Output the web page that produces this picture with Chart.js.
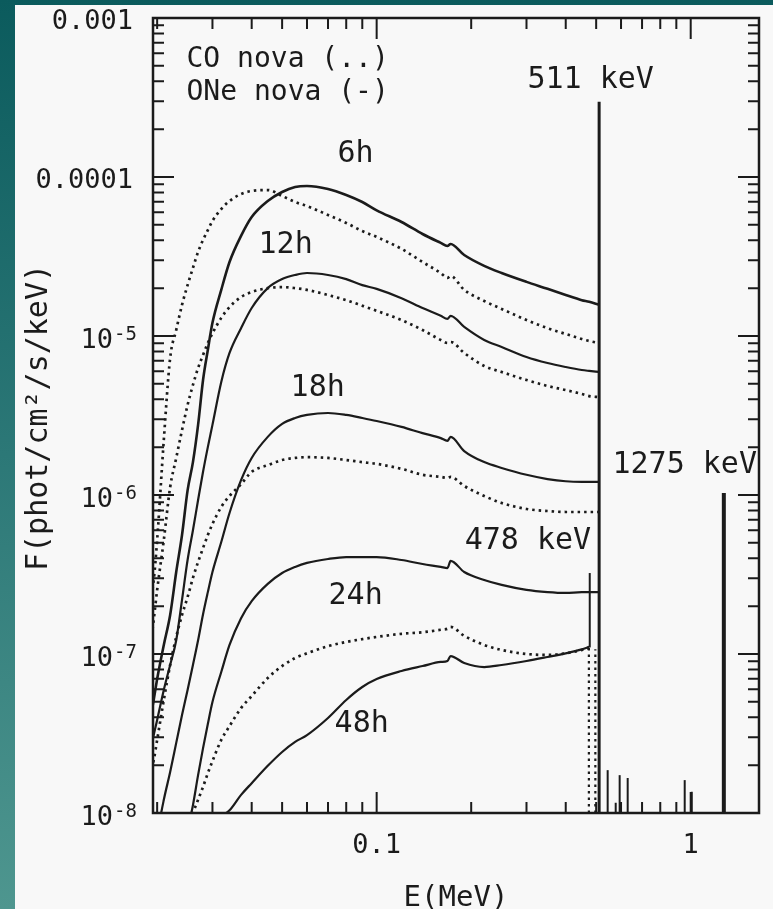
<!DOCTYPE html>
<html>
<head>
<meta charset="utf-8">
<title>Nova gamma-ray spectra</title>
<script src="https://cdn.jsdelivr.net/npm/chart.js@4.4.1/dist/chart.umd.min.js"></script>
<style>
  html, body { margin: 0; padding: 0; }
  body {
    width: 773px; height: 909px; overflow: hidden; position: relative;
    background: linear-gradient(to bottom, #0b5b5d 0%, #2c7877 50%, #4e968f 100%);
  }
  #panel { position: absolute; left: 15px; top: 5px; right: 0; bottom: 0; background: #f8f8f8; }
  #chart { position: absolute; left: 0; top: 0; }
</style>
</head>
<body>
<div id="panel"></div>
<canvas id="chart" width="773" height="909"></canvas>
<script>
// energy grid (MeV), shared by all the spectra
var energy = [0.018, 0.0195, 0.02, 0.021, 0.022, 0.023, 0.024, 0.025, 0.026, 0.027,
  0.028, 0.029, 0.03, 0.032, 0.034, 0.037, 0.04, 0.045, 0.05, 0.055,
  0.06, 0.07, 0.08, 0.09, 0.1, 0.12, 0.14, 0.16, 0.168, 0.172,
  0.19, 0.22, 0.25, 0.3, 0.35, 0.4, 0.45, 0.475, 0.51];

// ONe nova (solid), phot/cm2/s/keV
var one6h = [2.15e-8, 5.14e-8, 6.96e-8, 1.14e-7, 1.76e-7, 3.28e-7, 5.6e-7, 1.07e-6, 1.61e-6, 2.76e-6,
  5.29e-6, 8.17e-6, 1.21e-5, 1.95e-5, 2.92e-5, 4.26e-5, 5.6e-5, 7.06e-5, 8.05e-5, 8.65e-5,
  8.78e-5, 8.41e-5, 7.71e-5, 6.96e-5, 6.17e-5, 5.21e-5, 4.38e-5, 3.85e-5, 3.68e-5, 3.79e-5,
  3.23e-5, 2.76e-5, 2.49e-5, 2.19e-5, 1.98e-5, 1.81e-5, 1.68e-5, 1.64e-5, 1.57e-5];
var one12h = [1.61e-8, 3.09e-8, 3.85e-8, 5.94e-8, 8.53e-8, 1.22e-7, 2.19e-7, 3.9e-7, 6.0e-7, 9.3e-7,
  1.4e-6, 2.0e-6, 2.76e-6, 5.14e-6, 7.82e-6, 1.12e-5, 1.5e-5, 2.0e-5, 2.28e-5, 2.42e-5,
  2.49e-5, 2.42e-5, 2.28e-5, 2.09e-5, 1.98e-5, 1.73e-5, 1.5e-5, 1.34e-5, 1.28e-5, 1.34e-5,
  1.14e-5, 9.44e-6, 8.53e-6, 7.38e-6, 6.76e-6, 6.38e-6, 6.11e-6, 6.03e-6, 5.94e-6];
var one18h = [3.79e-9, 5.06e-9, 7.27e-9, 1.21e-8, 1.81e-8, 2.76e-8, 4.13e-8, 5.94e-8, 8.53e-8, 1.22e-7,
  1.78e-7, 2.45e-7, 3.28e-7, 5.06e-7, 7.71e-7, 1.24e-6, 1.71e-6, 2.32e-6, 2.8e-6, 3.05e-6,
  3.19e-6, 3.28e-6, 3.19e-6, 3.05e-6, 2.92e-6, 2.68e-6, 2.45e-6, 2.28e-6, 2.19e-6, 2.32e-6,
  1.89e-6, 1.61e-6, 1.48e-6, 1.34e-6, 1.26e-6, 1.22e-6, 1.21e-6, 1.21e-6, 1.21e-6];
var one24h = [null, null, null, null, null, null, 5.21e-9, 7.82e-9, 1.12e-8, 1.73e-8,
  2.56e-8, 3.63e-8, 4.99e-8, 7.71e-8, 1.14e-7, 1.68e-7, 2.15e-7, 2.76e-7, 3.23e-7, 3.53e-7,
  3.74e-7, 3.96e-7, 4.07e-7, 4.07e-7, 4.07e-7, 3.9e-7, 3.68e-7, 3.53e-7, 3.47e-7, 3.85e-7,
  3.28e-7, 2.92e-7, 2.72e-7, 2.53e-7, 2.45e-7, 2.42e-7, 2.45e-7, 2.45e-7, 2.45e-7];
var one48h = [null, null, null, null, null, null, null, null, null, null,
  null, null, null, 9.57e-9, 1.04e-8, 1.3e-8, 1.54e-8, 1.98e-8, 2.42e-8, 2.8e-8,
  3.09e-8, 3.96e-8, 5.14e-8, 6.2e-8, 6.96e-8, 7.82e-8, 8.4e-8, 8.91e-8, 9.04e-8, 9.71e-8,
  8.78e-8, 8.28e-8, 8.53e-8, 9.04e-8, 9.58e-8, 1.01e-7, 1.07e-7, 1.11e-7, null];

// CO nova (dotted)
var co6h = [1.22e-7, 2.92e-7, 5.21e-7, 2.22e-6, 7.28e-6, 1.09e-5, 1.57e-5, 2.09e-5, 2.68e-5, 3.38e-5,
  4.02e-5, 4.64e-5, 5.29e-5, 6.29e-5, 7.06e-5, 7.82e-5, 8.17e-5, 8.28e-5, 7.6e-5, 6.96e-5,
  6.57e-5, 5.77e-5, 5.14e-5, 4.57e-5, 4.2e-5, 3.53e-5, 2.92e-5, 2.49e-5, 2.32e-5, 2.38e-5,
  1.95e-5, 1.66e-5, 1.48e-5, 1.26e-5, 1.12e-5, 1.03e-5, 9.57e-6, 9.3e-6, 9.04e-6];
var co12h = [5.14e-8, 1.64e-7, 2.53e-7, 5.21e-7, 1.12e-6, 1.71e-6, 2.56e-6, 3.68e-6, 4.92e-6, 6.29e-6,
  7.6e-6, 9.04e-6, 1.04e-5, 1.3e-5, 1.52e-5, 1.76e-5, 1.89e-5, 2.0e-5, 2.03e-5, 2.0e-5,
  1.95e-5, 1.81e-5, 1.68e-5, 1.55e-5, 1.44e-5, 1.26e-5, 1.09e-5, 9.44e-6, 9.04e-6, 9.17e-6,
  7.82e-6, 6.48e-6, 5.94e-6, 5.29e-6, 4.85e-6, 4.57e-6, 4.32e-6, 4.19e-6, 4.13e-6];
var co18h = [1.21e-8, 2.15e-8, 2.88e-8, 5.14e-8, 8.53e-8, 1.28e-7, 1.76e-7, 2.28e-7, 3.01e-7, 3.79e-7,
  4.64e-7, 5.6e-7, 6.57e-7, 8.41e-7, 9.86e-7, 1.17e-6, 1.4e-6, 1.54e-6, 1.66e-6, 1.71e-6,
  1.73e-6, 1.71e-6, 1.66e-6, 1.61e-6, 1.57e-6, 1.46e-6, 1.34e-6, 1.3e-6, 1.28e-6, 1.3e-6,
  1.14e-6, 9.86e-7, 8.91e-7, 8.17e-7, 7.93e-7, 7.82e-7, 7.82e-7, 7.82e-7, 7.82e-7];
var co24h = [null, null, null, null, null, null, 6.29e-9, 8.05e-9, 1.0e-8, 1.21e-8,
  1.46e-8, 1.78e-8, 2.12e-8, 2.88e-8, 3.52e-8, 4.57e-8, 5.44e-8, 7.06e-8, 8.4e-8, 9.44e-8,
  1.01e-7, 1.12e-7, 1.19e-7, 1.24e-7, 1.28e-7, 1.34e-7, 1.37e-7, 1.42e-7, 1.44e-7, 1.48e-7,
  1.3e-7, 1.14e-7, 1.06e-7, 1.0e-7, 9.86e-8, 1.01e-7, 1.06e-7, 1.09e-7, null];

// gamma-ray lines: energy (MeV) and top flux
var lineEnergy = [0.511, 1.275];
var lineTop = [2.97e-4, 1.03e-6];
var weakEnergy = [0.544, 0.577, 0.594, 0.63, 0.957, 1.008];
var weakTop = [1.86e-8, 1.16e-8, 1.73e-8, 1.66e-8, 1.61e-8, 1.36e-8];
var be7Energy = 0.477, be7Low = 1.1e-7, be7Top = 3.23e-7;
var dropEnergy = [0.474, 0.497];
var dropTop = [1.09e-7, 1.07e-7];

// axes
var xMin = 0.0194, xMax = 1.65, yMin = 1e-8, yMax = 1e-3;
var yTicks = [1e-3, 1e-4, 1e-5, 1e-6, 1e-7, 1e-8];
var yTickText = ['0.001', '0.0001', '10^-5', '10^-6', '10^-7', '10^-8'];
var xTicks = [0.1, 1];
var xTickText = ['0.1', '1'];

var ink = '#1b1b1b';
var face = '"DejaVu Sans Mono", "Liberation Mono", monospace';
var dots = [2.5, 4];

function points(series) {
  var pts = [];
  energy.forEach(function (e, i) {
    if (series[i] !== null) pts.push({ x: e, y: series[i] });
  });
  return pts;
}

function curve(series, dotted, width) {
  return {
    data: points(series),
    showLine: true,
    pointRadius: 0,
    borderColor: ink,
    borderWidth: width || (dotted ? 2.7 : 2.2),
    borderDash: dotted ? dots : [],
    cubicInterpolationMode: 'monotone'
  };
}

function vline(e, lo, hi, width, dotted) {
  return {
    data: [{ x: e, y: lo }, { x: e, y: hi }],
    showLine: true,
    pointRadius: 0,
    borderColor: ink,
    borderWidth: width,
    borderDash: dotted ? dots : []
  };
}

function logTicks(min, max) {
  var out = [];
  for (var e = Math.floor(Math.log10(min)); e <= Math.ceil(Math.log10(max)); e++) {
    for (var k = 1; k < 10; k++) {
      var v = k * Math.pow(10, e);
      if (v > min * 1.0001 && v < max * 0.9999) out.push({ v: v, major: k === 1 });
    }
  }
  return out;
}

//labels inside the plot, placed in data coordinates
var notes = [
  ['6h', 0.0857, 1.46e-4, 30, 'center'],
  ['12h', 0.0513, 3.9e-5, 30, 'center'],
  ['18h', 0.0649, 4.92e-6, 30, 'center'],
  ['24h', 0.0857, 2.42e-7, 30, 'center'],
  ['48h', 0.0896, 3.79e-8, 30, 'center'],
  ['478 keV', 0.303, 5.37e-7, 30, 'center'],
  ['511 keV', 0.48, 4.26e-4, 30, 'center'],
  ['1275 keV', 0.957, 1.61e-6, 30, 'center'],
  ['CO nova (..)', 0.0248, 5.69e-4, 28, 'left'],
  ['ONe nova (-)', 0.0248, 3.52e-4, 28, 'left']
];

var axesPlugin = {
  id: 'axesPlugin',
  afterDatasetsDraw: function (chart) {
    var ctx = chart.ctx, a = chart.chartArea, sx = chart.scales.x, sy = chart.scales.y;
    ctx.save();
    ctx.strokeStyle = ink;
    ctx.fillStyle = ink;

    // frame
    ctx.lineWidth = 2.5;
    ctx.strokeRect(a.left, a.top, a.right - a.left, a.bottom - a.top);

    // inward ticks on all four sides
    ctx.lineWidth = 2;
    ctx.beginPath();
    logTicks(xMin, xMax).forEach(function (t) {
      var px = sx.getPixelForValue(t.v), len = t.major ? 21 : 11;
      ctx.moveTo(px, a.bottom); ctx.lineTo(px, a.bottom - len);
      ctx.moveTo(px, a.top); ctx.lineTo(px, a.top + len);
    });
    logTicks(yMin, yMax).forEach(function (t) {
      var py = sy.getPixelForValue(t.v), len = t.major ? 21 : 11;
      ctx.moveTo(a.left, py); ctx.lineTo(a.left + len, py);
      ctx.moveTo(a.right, py); ctx.lineTo(a.right - len, py);
    });
    ctx.stroke();

    // y tick labels
    ctx.textBaseline = 'alphabetic';
    ctx.textAlign = 'right';
    yTicks.forEach(function (v, i) {
      var py = sy.getPixelForValue(v), s = yTickText[i];
      if (s.indexOf('^') > 0) {
        var parts = s.split('^');
        ctx.font = '19px ' + face;
        var w = ctx.measureText(parts[1]).width;
        ctx.fillText(parts[1], a.left - 16, py + 4);
        ctx.font = '27px ' + face;
        ctx.fillText(parts[0], a.left - 17 - w, py + 12);
      } else {
        ctx.font = '27px ' + face;
        ctx.fillText(s, a.left - 20, py + 11);
      }
    });

    // x tick labels
    ctx.textAlign = 'center';
    ctx.font = '27px ' + face;
    xTicks.forEach(function (v, i) {
      ctx.fillText(xTickText[i], sx.getPixelForValue(v), a.bottom + 40);
    });

    // axis titles
    ctx.font = '29px ' + face;
    ctx.fillText('E(MeV)', (a.left + a.right) / 2, a.bottom + 93);
    ctx.save();
    ctx.translate(47, (a.top + a.bottom) / 2 + 2);
    ctx.rotate(-Math.PI / 2);
    ctx.font = '30px ' + face;
    ctx.fillText('F(phot/cm\u00b2/s/keV)', 0, 0);
    ctx.restore();

    // notes
    notes.forEach(function (n) {
      ctx.font = n[3] + 'px ' + face;
      ctx.textAlign = n[4];
      ctx.fillText(n[0], sx.getPixelForValue(n[1]), sy.getPixelForValue(n[2]) + n[3] * 0.365);
    });

    ctx.restore();
  }
};

var datasets = [
  curve(co6h, true), curve(co12h, true), curve(co18h, true), curve(co24h, true),
  curve(one6h, false, 2.6), curve(one12h, false), curve(one18h, false),
  curve(one24h, false), curve(one48h, false)
];
dropEnergy.forEach(function (e, i) { datasets.push(vline(e, yMin, dropTop[i], 2.2, true)); });
datasets.push(vline(be7Energy, be7Low, be7Top, 2, false));
weakEnergy.forEach(function (e, i) { datasets.push(vline(e, yMin, weakTop[i], 2, false)); });
datasets.push(vline(lineEnergy[0], yMin, lineTop[0], 3, false));
datasets.push(vline(lineEnergy[1], yMin, lineTop[1], 4, false));

var ctx = document.getElementById('chart').getContext('2d');
var spectra = new Chart(ctx, {
  type: 'scatter',
  data: { datasets: datasets },
  options: {
    responsive: false,
    animation: false,
    events: [],
    layout: { padding: { left: 153, right: 14, top: 18, bottom: 96 } },
    plugins: { legend: { display: false }, tooltip: { enabled: false } },
    scales: {
      x: { type: 'logarithmic', min: xMin, max: xMax, display: false },
      y: { type: 'logarithmic', min: yMin, max: yMax, display: false }
    }
  },
  plugins: [axesPlugin]
});
</script>
</body>
</html>
